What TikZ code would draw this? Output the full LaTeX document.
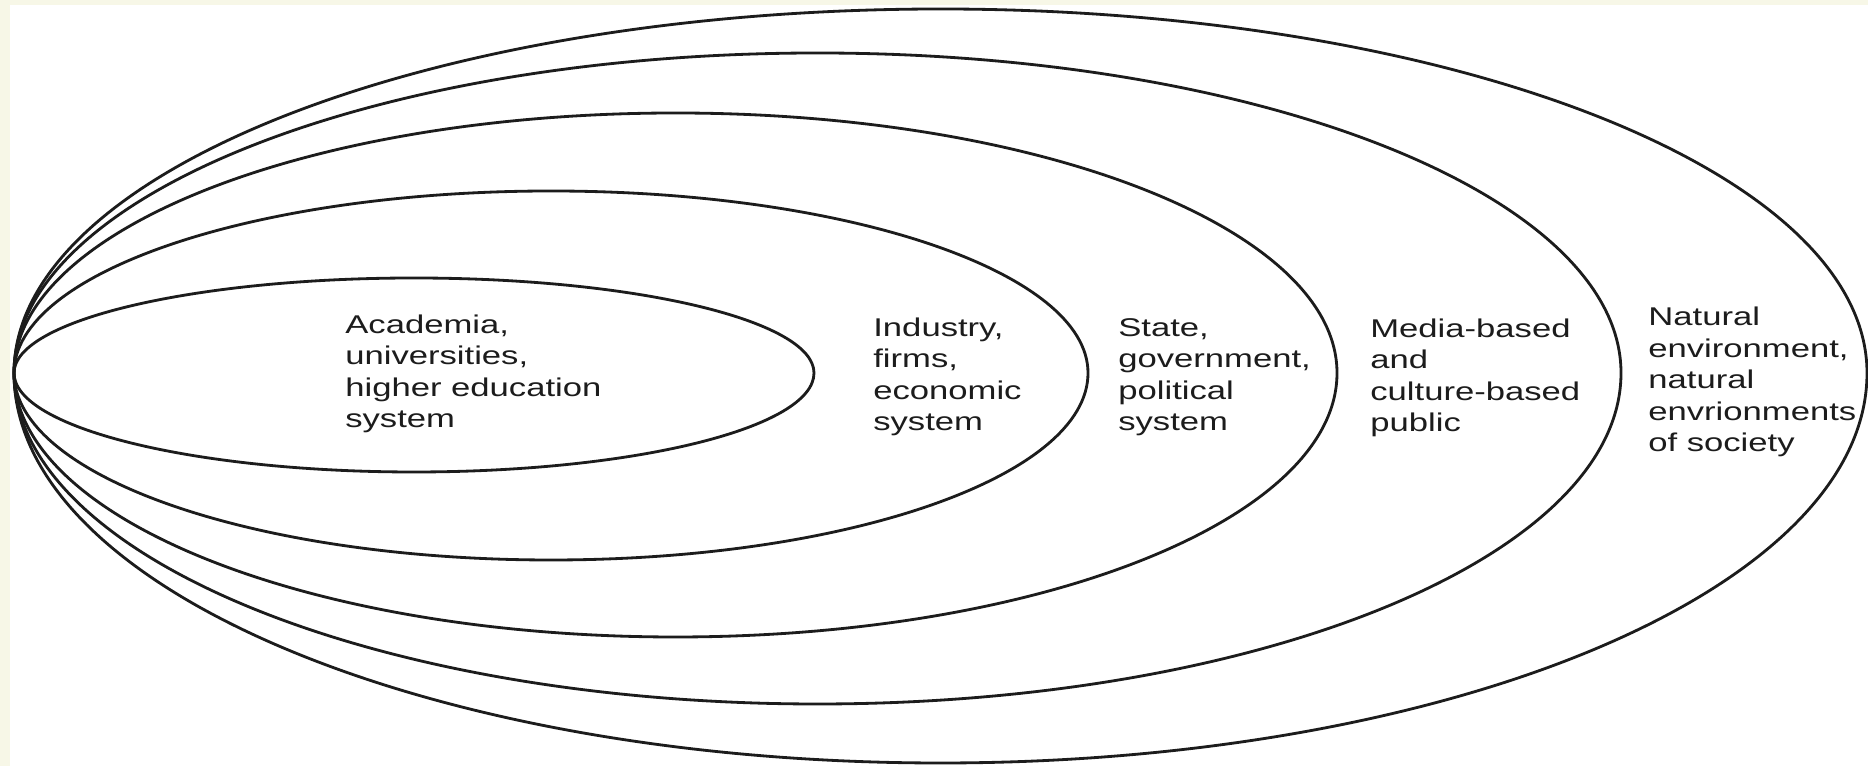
\documentclass[tikz,border=0pt]{standalone}
\usepackage{fontspec}
\setmainfont[FakeStretch=1.35]{Liberation Sans}
\definecolor{paleyellow}{RGB}{247,247,231}
\definecolor{inkline}{RGB}{28,28,28}
\begin{document}
\begin{tikzpicture}[x=0.02cm, y=0.02cm, line join=round, line cap=round,
  shelltext/.style={anchor=base west, inner sep=0pt, align=left, text=inkline,
    font=\fontsize{14.6}{18}\selectfont},
  shell/.style={draw=inkline, line width=1.6pt}]
\fill[paleyellow] (0,0) rectangle (1868,766);
\fill[white] (10,0) rectangle (1868,761);
\useasboundingbox (0,0) rectangle (1868,766);
% nested shells, all touching at the left point
\foreach \rx/\rt/\rb in {400/95/99, 537/182/187, 661.5/260/264, 803.5/320/331, 926.5/364/390}
  \draw[shell] (14,393) arc[start angle=180, end angle=0, x radius=\rx, y radius=\rt]
    arc[start angle=0, end angle=-180, x radius=\rx, y radius=\rb];
% base anchor sits on the last line
\node[shelltext] (academia) at (345,338) {Academia,\\universities,\\higher education\\system};
\node[shelltext] (industry) at (873,335) {Industry,\\firms,\\economic\\system};
\node[shelltext] (state) at (1118,335) {State,\\government,\\political\\system};
\node[shelltext] (public) at (1370,334) {Media-based\\and\\culture-based\\public};
\node[shelltext] (nature) at (1648,314) {Natural\\environment,\\natural\\envrionments\\of society};
\end{tikzpicture}
\end{document}
